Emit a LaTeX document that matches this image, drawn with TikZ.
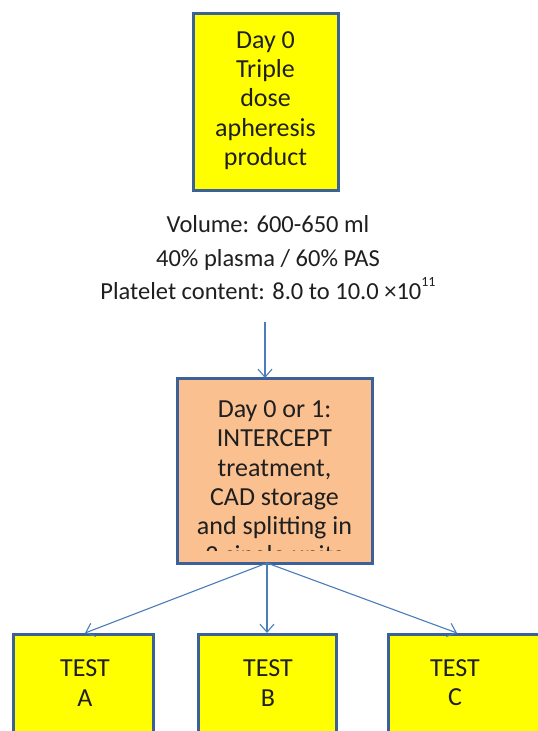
\documentclass[tikz,border=0pt]{standalone}
\usepackage{fontspec}
\setmainfont{Carlito}
\usetikzlibrary{arrows.meta}
\definecolor{bordblue}{HTML}{3C6098}
\definecolor{arrblue}{HTML}{4A7EBB}
\definecolor{boxyellow}{HTML}{FFFF00}
\definecolor{boxorange}{HTML}{FAC090}
\tikzset{
  box/.style={draw=bordblue, line width=3pt, inner sep=0pt},
  ybox/.style={box, fill=boxyellow},
  obox/.style={box, fill=boxorange},
  txt/.style={align=center, font=\fontsize{26}{29.2}\selectfont, text=black!88},
  conn/.style={draw=arrblue, line width=1.1pt, -{Straight Barb[length=8pt,width=14pt,line width=1.1pt]}}
}
\begin{document}
\begin{tikzpicture}[x=1pt,y=-1pt]
\useasboundingbox (0,0) rectangle (538,731);
\fill[white] (0,0) rectangle (538,731);
\clip (0,0) rectangle (538,731);
% top box
\node[ybox, minimum width=145pt, minimum height=177pt] (top) at (265.5,101.5) {};
\node[txt] (toptxt) at (265.5,100.5) {Day 0\\Triple\\dose\\apheresis\\product};
% middle text
\node[align=center, font=\fontsize{24.5}{33.5}\selectfont, text=black!88] (info) at (268,258)
 {Volume: 600-650 ml\\40\% plasma / 60\% PAS\\Platelet content: 8.0 to 10.0 ×10\raisebox{13pt}{\fontsize{14}{14}\selectfont 11}};
% orange box
\node[obox, minimum width=195pt, minimum height=185pt] (mid) at (274.5,470.5) {};
\begin{scope}
\clip (179,381) rectangle (370,550);
\node[txt] (midtxt) at (274.5,484.5) {Day 0 or 1:\\INTERCEPT\\treatment,\\CAD storage\\and splitting in\\2 single units};
\end{scope}
% bottom boxes
\node[ybox, anchor=north west, minimum width=140pt, minimum height=120pt] (A) at (12,633) {};
\node[ybox, anchor=north west, minimum width=138pt, minimum height=120pt] (B) at (197,633) {};
\node[ybox, anchor=north west, minimum width=170pt, minimum height=120pt] (C) at (387,633) {};
\node[txt, text width=130pt] (Atxt) at (85,683) {TEST\\A};
\node[txt, text width=130pt] (Btxt) at (268,683) {TEST\\B};
\node[txt, text width=130pt] (Ctxt) at (455,683) {TEST\\C};
% connectors
\coordinate (a1) at (265,322);
\coordinate (a2) at (265,378);
\draw[conn] (a1) -- (a2);
\coordinate (s) at (267,563);
\coordinate (ea) at (85,633);
\coordinate (eb) at (267,633);
\coordinate (ec) at (457,633);
\draw[conn] (s) -- (ea);
\draw[conn] (s) -- (eb);
\draw[conn] (s) -- (ec);
\end{tikzpicture}
\end{document}
